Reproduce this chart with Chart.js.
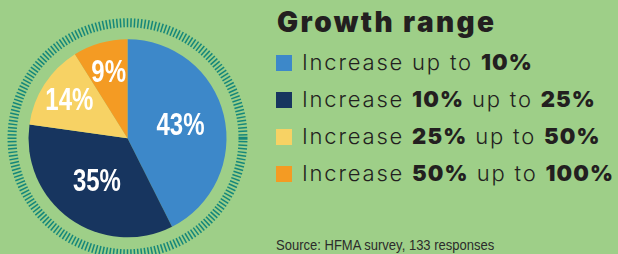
<!DOCTYPE html>
<html>
<head>
<meta charset="utf-8">
<script src="https://cdn.jsdelivr.net/npm/chart.js@4"></script>
<style>
  html, body { margin: 0; padding: 0; }
  body { width: 618px; height: 254px; background: #9ecf88; position: relative; overflow: hidden; font-family: "Inter", sans-serif; color: #231f20; }
  #pie { position: absolute; left: 0; top: 0; }
  #title { position: absolute; left: 277px; top: 5px; font-family: "Inter"; font-weight: 900; font-size: 28px; letter-spacing: 2.4px; white-space: nowrap; }
  #legend { position: absolute; left: 276px; top: 44px; margin: 0; padding: 0; list-style: none; }
  #legend li { height: 37px; line-height: 37px; white-space: nowrap; font-size: 22px; font-weight: 300; letter-spacing: 1.8px; display: flex; align-items: center; }
  #legend li .sw { width: 16px; height: 16px; margin-right: 10px; flex: none; }
  #legend li b { font-weight: 900; letter-spacing: 1.1px; }
  #source { position: absolute; left: 276px; top: 237px; font-family: "Liberation Sans", sans-serif; font-size: 14px; color: #2b2b2b; white-space: nowrap; transform: scaleX(0.93); transform-origin: 0 0; }
</style>
</head>
<body>
<canvas id="pie" width="260" height="254"></canvas>
<div id="title">Growth range</div>
<ul id="legend"></ul>
<div id="source">Source: HFMA survey, 133 responses</div>
<script>
// ---- data ----
const categories = ["Increase up to 10%", "Increase 10% up to 25%", "Increase 25% up to 50%", "Increase 50% up to 100%"];
const legendParts = [
  [["Increase up to ", false], ["10%", true]],
  [["Increase ", false], ["10%", true], [" up to ", false], ["25%", true]],
  [["Increase ", false], ["25%", true], [" up to ", false], ["50%", true]],
  [["Increase ", false], ["50%", true], [" up to ", false], ["100%", true]]
];
const shares = [43, 35, 14, 9];
const colors = ["#3d88c9", "#17355f", "#f7d264", "#f49b23"];

// ---- legend (HTML, for mixed-weight text) ----
const ul = document.getElementById('legend');
legendParts.forEach((parts, i) => {
  const li = document.createElement('li');
  const sw = document.createElement('span');
  sw.className = 'sw';
  sw.style.background = colors[i];
  li.appendChild(sw);
  const txt = document.createElement('span');
  parts.forEach(([t, bold]) => {
    const el = document.createElement(bold ? 'b' : 'span');
    el.textContent = t;
    txt.appendChild(el);
  });
  li.appendChild(txt);
  ul.appendChild(li);
});

// ---- plugins ----
const ringPlugin = {
  id: 'ring',
  beforeDatasetsDraw(chart) {
    const arc = chart.getDatasetMeta(0).data[0];
    if (!arc) return;
    const { x, y, outerRadius } = arc.getProps(['x', 'y', 'outerRadius'], true);
    const r1 = outerRadius + 12, r2 = outerRadius + 21;
    const n = 208;
    const ctx = chart.ctx;
    ctx.save();
    ctx.strokeStyle = '#15877a';
    for (let i = 0; i < n; i++) {
      const a = i / n * Math.PI * 2;
      ctx.lineWidth = i === 0 ? 3 : 1.5;
      ctx.beginPath();
      ctx.moveTo(x + Math.cos(a) * r1, y + Math.sin(a) * r1);
      ctx.lineTo(x + Math.cos(a) * r2, y + Math.sin(a) * r2);
      ctx.stroke();
    }
    ctx.restore();
  }
};

const labelPlugin = {
  id: 'pieLabels',
  afterDatasetsDraw(chart, args, opts) {
    const ctx = chart.ctx;
    const meta = chart.getDatasetMeta(0);
    const data = chart.data.datasets[0].data;
    ctx.save();
    ctx.fillStyle = '#ffffff';
    ctx.font = 'bold 30px "Liberation Sans", sans-serif';
    ctx.textAlign = 'center';
    ctx.textBaseline = 'middle';
    meta.data.forEach((arc, i) => {
      const p = arc.getProps(['x', 'y', 'startAngle', 'endAngle', 'outerRadius'], true);
      const mid = (p.startAngle + p.endAngle) / 2;
      const rr = p.outerRadius * opts.radius[i];
      const lx = p.x + Math.cos(mid) * rr;
      const ly = p.y + Math.sin(mid) * rr + 1;
      ctx.save();
      ctx.translate(lx, ly);
      ctx.scale(0.8, 1.05);
      ctx.fillText(data[i] + '%', 0, 0);
      ctx.restore();
    });
    ctx.restore();
  }
};

new Chart(document.getElementById('pie'), {
  type: 'pie',
  data: {
    labels: categories,
    datasets: [{ data: shares, backgroundColor: colors, borderWidth: 0 }]
  },
  options: {
    responsive: false,
    animation: false,
    layout: { padding: { top: 39, bottom: 16.5, left: 28.5, right: 33.5 } },
    plugins: {
      legend: { display: false },
      tooltip: { enabled: false },
      pieLabels: { radius: [0.55, 0.53, 0.70, 0.69] }
    }
  },
  plugins: [ringPlugin, labelPlugin]
});
</script>
</body>
</html>
